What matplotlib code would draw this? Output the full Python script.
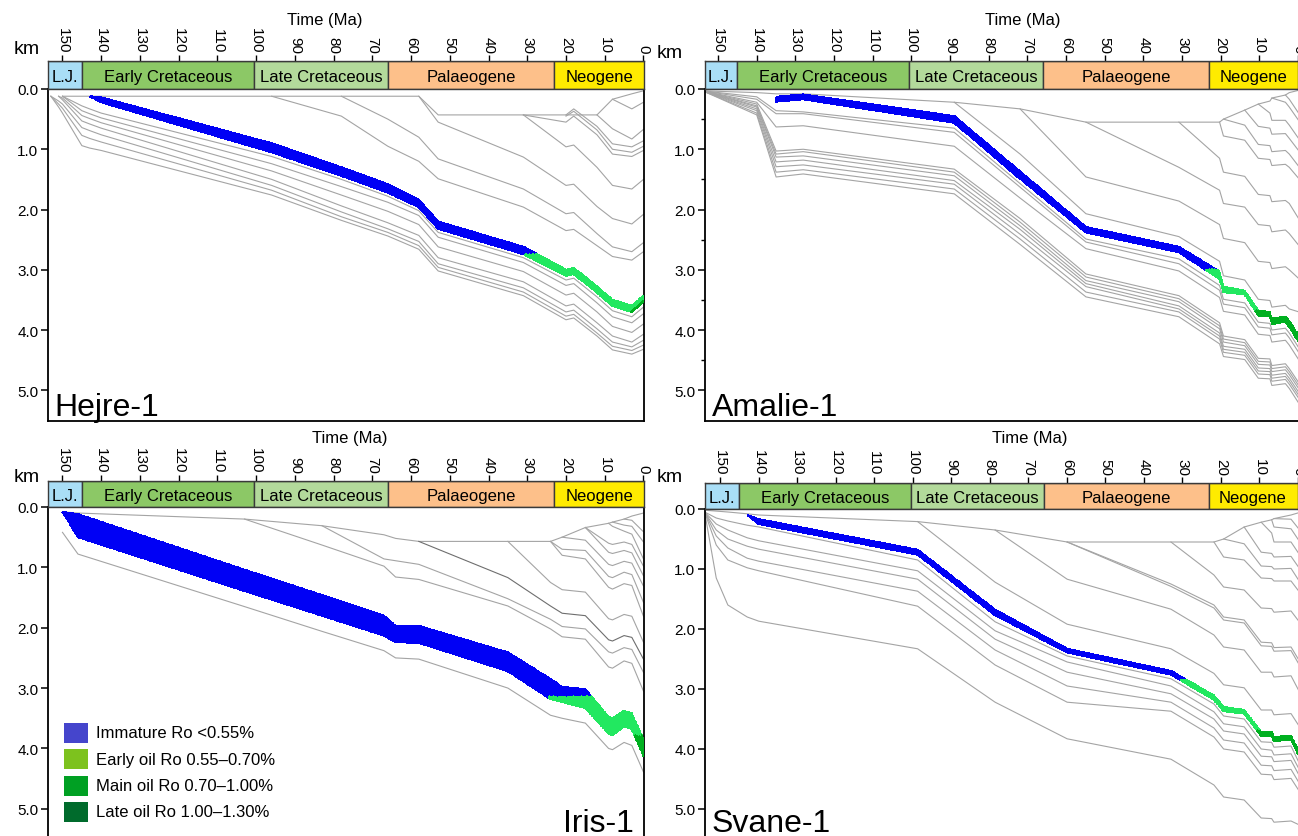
import numpy as np
import matplotlib
matplotlib.use("Agg")
import matplotlib.pyplot as plt
from matplotlib.colors import ListedColormap
from matplotlib.patches import Rectangle

plt.rcParams["font.family"] = ["Liberation Sans", "DejaVu Sans"]
nan = np.nan

# ---------------- data ----------------
period_names = ["L.J.", "Early Cretaceous", "Late Cretaceous", "Palaeogene", "Neogene"]
period_start = [160, 145, 100.5, 66, 23]
period_end = [145, 100.5, 66, 23, -5]
period_colors = ["#A9DEF6", "#8CC866", "#B3DA9B", "#FDC08A", "#FFEB00"]
time_ticks = [150, 140, 130, 120, 110, 100, 90, 80, 70, 60, 50, 40, 30, 20, 10, 0]
depth_ticks = [0.0, 1.0, 2.0, 3.0, 4.0, 5.0]

maturity_labels = ["Immature Ro <0.55%", "Early oil Ro 0.55\u20130.70%",
                   "Main oil Ro 0.70\u20131.00%", "Late oil Ro 1.00\u20131.30%"]
legend_colors = ["#4545CC", "#7DC21E", "#00A023", "#006B2C"]
band_colors = ["#0000F5", "#22E860", "#00B020"]

# ---- Hejre-1 ----
hejre_age = [153, 151, 150, 145, 143, 140, 96, 78, 66, 58, 53, 31, 20, 18, 12, 8, 3, 0]
hejre_top = [nan, nan, nan, nan, 0.12, 0.14, 0.90, 1.30, 1.58, 1.84, 2.20, 2.62, 3.00, 2.97, 3.28, 3.50, 3.60, 3.43]
hejre_base = [nan, nan, nan, nan, 0.12, 0.22, 1.05, 1.44, 1.72, 1.96, 2.32, 2.74, 3.10, 3.07, 3.38, 3.60, 3.70, 3.53]
hejre_limits = [2.75, 3.69]
hejre_horizons = [
    [nan, nan, 0.12, 0.12, 0.12, 0.12, 0.12, 0.12, 0.12, 0.12, 0.43, 0.43, 0.43, 0.43, 0.43, 0.17, 0.08, 0.03],
    [nan] * 15 + [0.17, 0.33, 0.22],
    [nan] * 14 + [0.43, 0.66, 0.83, 0.67],
    [nan] * 12 + [0.43, 0.33, 0.62, 0.91, 0.96, 0.86],
    [nan] * 12 + [0.45, 0.37, 0.68, 1.00, 1.05, 0.95],
    [nan] * 11 + [0.43, 0.55, 0.45, 0.76, 1.08, 1.12, 1.02],
    [nan] * 11 + [0.43, 0.96, 0.93, 1.30, 1.60, 1.66, 1.50],
    [nan] * 9 + [0.12, 0.55, 1.13, 1.60, 1.58, 1.95, 2.15, 2.24, 2.08],
    [nan] * 7 + [0.12, 0.50, 0.80, 1.16, 1.66, 2.07, 2.05, 2.40, 2.62, 2.70, 2.55],
    [nan] * 6 + [0.12, 0.45, 0.95, 1.20, 1.49, 1.96, 2.35, 2.33, 2.60, 2.78, 2.84, 2.70],
    [nan, nan, 0.12, 0.28, 0.33, 0.40, 1.12, 1.50, 1.78, 2.02, 2.38, 2.80, 3.17, 3.14, 3.45, 3.68, 3.78, 3.62],
    [nan, nan, 0.12, 0.36, 0.41, 0.48, 1.24, 1.62, 1.88, 2.10, 2.46, 2.88, 3.26, 3.23, 3.55, 3.78, 3.88, 3.73],
    [nan, 0.12, 0.15, 0.44, 0.49, 0.56, 1.36, 1.76, 2.03, 2.25, 2.62, 3.03, 3.42, 3.39, 3.70, 3.94, 4.04, 3.90],
    [nan, 0.12, 0.18, 0.53, 0.58, 0.65, 1.50, 1.94, 2.22, 2.43, 2.80, 3.20, 3.60, 3.57, 3.88, 4.10, 4.20, 4.07],
    [0.12, 0.20, 0.25, 0.64, 0.69, 0.76, 1.60, 2.04, 2.32, 2.53, 2.90, 3.30, 3.70, 3.67, 3.98, 4.20, 4.28, 4.17],
    [0.12, 0.25, 0.32, 0.77, 0.82, 0.88, 1.68, 2.12, 2.38, 2.60, 2.96, 3.37, 3.77, 3.74, 4.05, 4.27, 4.34, 4.25],
    [0.12, 0.30, 0.40, 0.94, 0.98, 1.02, 1.76, 2.18, 2.44, 2.66, 3.02, 3.43, 3.83, 3.80, 4.10, 4.33, 4.40, 4.32],
]

# ---- Amalie-1 ----
amalie_age = [154, 140, 135, 128, 89, 72, 55, 31, 20.5, 19.5, 14, 10.5, 7.5, 7, 3.5, 2.5, 0]
amalie_top = [nan, nan, 0.13, 0.09, 0.45, 1.37, 2.29, 2.62, 3.03, 3.28, 3.35, 3.68, 3.70, 3.81, 3.78, 3.85, 4.10]
amalie_base = [nan, nan, 0.21, 0.17, 0.56, 1.49, 2.38, 2.71, 3.15, 3.37, 3.41, 3.76, 3.77, 3.90, 3.86, 3.95, 4.20]
amalie_limits = [3.0, 3.68]
amalie_horizons = [
    [0.03, 0.06, 0.08, 0.08, 0.22, 0.33, 0.55, 0.55, 0.55, 0.50, 0.35, 0.25, 0.20, 0.15, 0.10, 0.06, 0.02],
    [nan] * 14 + [0.10, 0.17, 0.41],
    [nan] * 13 + [0.15, 0.22, 0.30, 0.53],
    [nan] * 11 + [0.25, 0.40, 0.52, 0.52, 0.60, 0.83],
    [nan] * 10 + [0.35, 0.62, 0.65, 0.75, 0.74, 0.82, 1.03],
    [nan] * 9 + [0.50, 0.60, 0.92, 0.94, 1.04, 1.02, 1.08, 1.29],
    [nan] * 8 + [0.55, 0.78, 0.85, 1.15, 1.17, 1.27, 1.25, 1.30, 1.49],
    [nan] * 7 + [0.55, 1.15, 1.38, 1.45, 1.75, 1.77, 1.87, 1.85, 1.90, 2.16],
    [nan] * 6 + [0.55, 1.30, 1.68, 1.90, 1.96, 2.25, 2.27, 2.37, 2.34, 2.40, 2.60],
    [nan] * 5 + [0.33, 1.46, 1.86, 2.25, 2.48, 2.55, 2.86, 2.88, 2.98, 2.95, 3.00, 3.15],
    [nan] * 4 + [0.22, 1.08, 2.07, 2.45, 2.86, 3.10, 3.17, 3.49, 3.51, 3.62, 3.59, 3.65, 3.70],
    [0.03, 0.13, 0.36, 0.38, 0.65, 1.57, 2.49, 2.82, 3.26, 3.49, 3.55, 3.87, 3.89, 4.00, 3.97, 4.05, 4.30],
    [0.03, 0.17, 0.41, 0.41, 0.72, 1.63, 2.54, 2.90, 3.34, 3.57, 3.63, 3.95, 3.97, 4.08, 4.05, 4.13, 4.38],
    [0.03, 0.22, 0.63, 0.61, 0.95, 1.81, 2.65, 3.02, 3.46, 3.69, 3.75, 4.07, 4.09, 4.20, 4.17, 4.25, 4.50],
    [0.03, 0.25, 1.03, 1.00, 1.33, 2.15, 3.07, 3.43, 3.88, 4.10, 4.16, 4.47, 4.48, 4.59, 4.56, 4.64, 4.88],
    [0.03, 0.28, 1.08, 1.04, 1.38, 2.21, 3.12, 3.48, 3.93, 4.15, 4.21, 4.52, 4.53, 4.64, 4.61, 4.69, 4.93],
    [0.03, 0.30, 1.13, 1.11, 1.44, 2.27, 3.18, 3.53, 3.98, 4.20, 4.26, 4.57, 4.58, 4.69, 4.66, 4.74, 4.98],
    [0.03, 0.33, 1.21, 1.18, 1.52, 2.33, 3.23, 3.60, 4.05, 4.27, 4.32, 4.63, 4.64, 4.75, 4.72, 4.80, 5.04],
    [0.03, 0.36, 1.29, 1.26, 1.58, 2.41, 3.28, 3.65, 4.10, 4.32, 4.37, 4.68, 4.69, 4.80, 4.77, 4.85, 5.09],
    [0.03, 0.40, 1.38, 1.34, 1.66, 2.49, 3.37, 3.70, 4.15, 4.37, 4.42, 4.73, 4.74, 4.85, 4.82, 4.90, 5.14],
    [0.03, 0.43, 1.46, 1.41, 1.74, 2.58, 3.45, 3.78, 4.23, 4.44, 4.49, 4.80, 4.81, 4.92, 4.89, 4.97, 5.22],
]

# ---- Iris-1 ----
iris_age = [152, 150, 146, 103, 83, 67, 64, 58, 35, 24, 21, 15, 9, 8, 5, 3, 0]
iris_top = [nan, 0.08, 0.12, 1.04, 1.46, 1.80, 1.97, 1.97, 2.41, 2.85, 2.98, 3.02, 3.48, 3.50, 3.38, 3.42, 3.85]
iris_base = [nan, 0.08, 0.50, 1.39, 1.80, 2.13, 2.24, 2.25, 2.72, 3.18, 3.23, 3.33, 3.75, 3.78, 3.63, 3.68, 4.13]
iris_limits = [3.15, 3.80]
iris_horizons = [
    [nan, 0.08, 0.10, 0.20, 0.31, 0.46, 0.52, 0.57, 0.57, 0.57, 0.50, 0.34, 0.27, 0.25, 0.20, 0.15, 0.10],
    [nan] * 14 + [0.20, 0.22, 0.41],
    [nan] * 13 + [0.25, 0.30, 0.32, 0.58],
    [nan] * 12 + [0.27, 0.32, 0.40, 0.45, 0.86],
    [nan] * 11 + [0.34, 0.60, 0.62, 0.58, 0.62, 0.98],
    [nan] * 11 + [0.34, 0.75, 0.77, 0.72, 0.76, 1.14],
    [nan] * 10 + [0.50, 0.55, 0.95, 0.97, 0.90, 0.93, 1.31],
    [nan] * 9 + [0.57, 0.70, 0.72, 1.15, 1.17, 1.08, 1.12, 1.58],
    [nan] * 9 + [0.57, 0.80, 0.86, 1.33, 1.36, 1.27, 1.30, 1.81],
    [nan] * 8 + [0.57, 1.25, 1.37, 1.41, 1.85, 1.87, 1.78, 1.81, 2.24],
    [nan] * 7 + [0.57, 1.17, 1.64, 1.76, 1.80, 2.20, 2.22, 2.13, 2.16, 2.52],
    [nan] * 4 + [0.31, 0.86, 0.89, 0.95, 1.52, 1.86, 1.98, 2.02, 2.40, 2.42, 2.33, 2.36, 2.74],
    [nan] * 3 + [0.20, 0.63, 0.98, 1.16, 1.20, 1.64, 2.02, 2.15, 2.19, 2.65, 2.67, 2.55, 2.59, 3.05],
    [nan, 0.42, 0.78, 1.65, 2.06, 2.38, 2.50, 2.52, 3.00, 3.45, 3.50, 3.58, 4.00, 4.02, 3.90, 3.95, 4.39],
]
iris_dark_line = 10

# ---- Svane-1 ----
svane_age = [154, 151, 148, 143, 140, 99, 79, 60.4, 33.6, 22.5, 20, 14.7, 10.3, 7.6, 7, 2.6, 0]
svane_top = [nan, nan, nan, 0.10, 0.17, 0.68, 1.68, 2.33, 2.70, 3.11, 3.30, 3.35, 3.72, 3.72, 3.80, 3.78, 4.12]
svane_base = [nan, nan, nan, 0.10, 0.25, 0.76, 1.77, 2.39, 2.76, 3.18, 3.37, 3.41, 3.78, 3.79, 3.87, 3.84, 4.20]
svane_limits = [2.85, 3.70]
svane_horizons = [
    [0.02, 0.035, 0.05, 0.08, 0.10, 0.21, 0.35, 0.55, 0.55, 0.55, 0.50, 0.30, 0.22, 0.18, 0.16, 0.10, 0.05],
    [nan] * 14 + [0.16, 0.17, 0.38],
    [nan] * 13 + [0.18, 0.30, 0.33, 0.58],
    [nan] * 12 + [0.22, 0.40, 0.55, 0.55, 0.80],
    [nan] * 11 + [0.30, 0.72, 0.74, 0.80, 0.79, 1.03],
    [nan] * 10 + [0.50, 0.58, 0.95, 0.96, 1.00, 0.99, 1.25],
    [nan] * 9 + [0.55, 0.80, 0.85, 1.15, 1.16, 1.20, 1.20, 1.42],
    [nan] * 8 + [0.55, 1.10, 1.30, 1.35, 1.65, 1.66, 1.72, 1.70, 1.92],
    [nan] * 7 + [0.55, 1.25, 1.60, 1.80, 1.85, 2.22, 2.23, 2.31, 2.30, 2.58],
    [nan] * 7 + [0.55, 1.29, 1.65, 1.85, 1.90, 2.28, 2.29, 2.37, 2.36, 2.65],
    [nan] * 6 + [0.35, 1.17, 1.67, 2.10, 2.30, 2.35, 2.72, 2.72, 2.80, 2.78, 3.10],
    [nan] * 5 + [0.21, 1.22, 1.92, 2.33, 2.74, 2.93, 2.98, 3.35, 3.35, 3.43, 3.41, 3.67],
    [0.05, 0.15, 0.20, 0.27, 0.30, 0.85, 1.88, 2.45, 2.83, 3.25, 3.45, 3.50, 3.88, 3.89, 3.97, 3.95, 4.30],
    [0.05, 0.25, 0.35, 0.48, 0.53, 1.03, 2.03, 2.55, 2.95, 3.38, 3.58, 3.63, 4.00, 4.02, 4.10, 4.08, 4.40],
    [0.05, 0.35, 0.50, 0.62, 0.67, 1.17, 2.17, 2.72, 3.08, 3.50, 3.70, 3.75, 4.12, 4.13, 4.21, 4.19, 4.50],
    [0.05, 0.45, 0.65, 0.82, 0.87, 1.37, 2.35, 2.95, 3.22, 3.65, 3.85, 3.90, 4.27, 4.28, 4.36, 4.34, 4.62],
    [0.05, 0.60, 0.85, 0.98, 1.03, 1.62, 2.60, 3.22, 3.37, 3.80, 4.00, 4.05, 4.42, 4.43, 4.51, 4.49, 4.75],
    [0.05, 1.15, 1.60, 1.80, 1.87, 2.33, 3.22, 3.83, 4.17, 4.60, 4.80, 4.85, 5.15, 5.16, 5.22, 5.20, 5.28],
]

# ---------------- drawing ----------------
W, H = 1298, 837
GREY = "#A4A4A4"
EDGE = "#3A3A3A"
fig = plt.figure(figsize=(W / 100, H / 100), dpi=100)


def px_axes(l, t, r, b):
    return fig.add_axes([l / W, 1 - b / H, (r - l) / W, (b - t) / H])


def draw_band(ax, ages, top, base, limits):
    a = np.asarray(ages, float)
    t = np.asarray(top, float)
    b = np.asarray(base, float)
    ok = ~np.isnan(t) & ~np.isnan(b)
    a, t, b = a[ok], t[ok], b[ok]
    tf = np.linspace(a[0], a[-1], 900)
    ti = np.interp(tf, a[::-1], t[::-1])
    bi = np.interp(tf, a[::-1], b[::-1])
    fr = np.linspace(0, 1, 13)[:, None]
    Z = ti[None, :] + fr * (bi - ti)[None, :]
    X = np.broadcast_to(tf[None, :], Z.shape)
    zc = 0.25 * (Z[:-1, :-1] + Z[1:, :-1] + Z[:-1, 1:] + Z[1:, 1:])
    zmax = np.maximum.accumulate(zc, axis=1)
    cat = np.digitize(zmax, limits)
    cmap = ListedColormap(band_colors[:len(limits) + 1])
    ax.pcolormesh(X, Z, cat, cmap=cmap, vmin=-0.5, vmax=len(limits) + 0.5,
                  shading="flat", edgecolors="face", linewidth=0.25, zorder=3)


def draw_panel(name, box, bar, xlim, ybottom, ages, top, base, limits, horizons,
               name_pos, name_ha, km_pos, time_pos, right_spine, minor=False, dark=None):
    ax = px_axes(*box)
    for i, row in enumerate(horizons):
        col = "#6E6E6E" if dark is not None and i == dark else GREY
        ax.plot(ages, row, color=col, lw=0.8, zorder=2)
    draw_band(ax, ages, top, base, limits)
    ax.set_xlim(*xlim)
    ax.set_ylim(ybottom, 0)
    ax.set_xticks([])
    ax.set_yticks(depth_ticks)
    ax.set_yticklabels([f"{v:.1f}" for v in depth_ticks], fontsize=11)
    ax.tick_params(axis="y", direction="out", length=5, width=1.1, pad=2)
    if minor:
        ax.set_yticks([0.5, 1.5, 2.5, 3.5, 4.5], minor=True)
        ax.tick_params(axis="y", which="minor", length=3, width=1)
    ax.spines["top"].set_visible(False)
    ax.spines["right"].set_visible(right_spine)
    for s in ("left", "bottom", "right"):
        ax.spines[s].set_linewidth(1.3)
        ax.spines[s].set_color("black")

    axb = px_axes(*bar)
    axb.set_xlim(*xlim)
    axb.set_ylim(0, 1)
    lo, hi = min(xlim), max(xlim)
    for nm, s, e, c in zip(period_names, period_start, period_end, period_colors):
        axb.barh(0.5, e - s, left=s, height=1, color=c, edgecolor=EDGE, lw=1.0)
        cx = 0.5 * (min(max(s, lo), hi) + min(max(e, lo), hi))
        axb.text(cx, 0.45, nm, ha="center", va="center", fontsize=12)
    axb.set_yticks([])
    axb.xaxis.tick_top()
    axb.set_xticks(time_ticks)
    axb.set_xticklabels([str(v) for v in time_ticks], rotation=270, fontsize=11)
    axb.tick_params(axis="x", direction="out", length=4, width=1, pad=2)
    for s in axb.spines.values():
        s.set_color(EDGE)
        s.set_linewidth(1.0)

    fig.text(name_pos[0] / W, 1 - name_pos[1] / H, name, fontsize=23,
             ha=name_ha, va="baseline")
    fig.text(km_pos[0] / W, 1 - km_pos[1] / H, "km", fontsize=14,
             ha="center", va="center")
    fig.text(time_pos[0] / W, 1 - time_pos[1] / H, "Time (Ma)", fontsize=12,
             ha="center", va="center")
    return ax


draw_panel("Hejre-1", (48, 90, 644, 422), (48, 62, 644, 90), (153.74, -0.14), 5.51,
           hejre_age, hejre_top, hejre_base, hejre_limits, hejre_horizons,
           (54, 416), "left", (27, 50), (325, 20), True)
draw_panel("Amalie-1", (705, 90, 1298, 422), (705, 62, 1298, 90), (153.36, 0.25), 5.51,
           amalie_age, amalie_top, amalie_base, amalie_limits, amalie_horizons,
           (712, 416), "left", (670, 53), (1023, 20), False, minor=True)
draw_panel("Iris-1", (48, 508, 644, 840), (48, 482, 644, 508), (153.74, -0.14), 5.5,
           iris_age, iris_top, iris_base, iris_limits, iris_horizons,
           (634, 832), "right", (27, 477), (350, 438), True, dark=iris_dark_line)
draw_panel("Svane-1", (705, 510, 1298, 840), (705, 484, 1298, 510), (153.9, 0.8), 5.5,
           svane_age, svane_top, svane_base, svane_limits, svane_horizons,
           (712, 832), "left", (670, 477), (1030, 438), False)

# legend (inside Iris-1 panel)
for i, (lab, col) in enumerate(zip(maturity_labels, legend_colors)):
    ytop = 724 + 26.3 * i
    fig.add_artist(Rectangle((64 / W, 1 - (ytop + 20) / H), 24 / W, 20 / H,
                             transform=fig.transFigure, facecolor=col, edgecolor="none"))
    fig.text(96 / W, 1 - (ytop + 10) / H, lab, fontsize=12, ha="left", va="center")

fig.savefig("out.png", dpi=100)
